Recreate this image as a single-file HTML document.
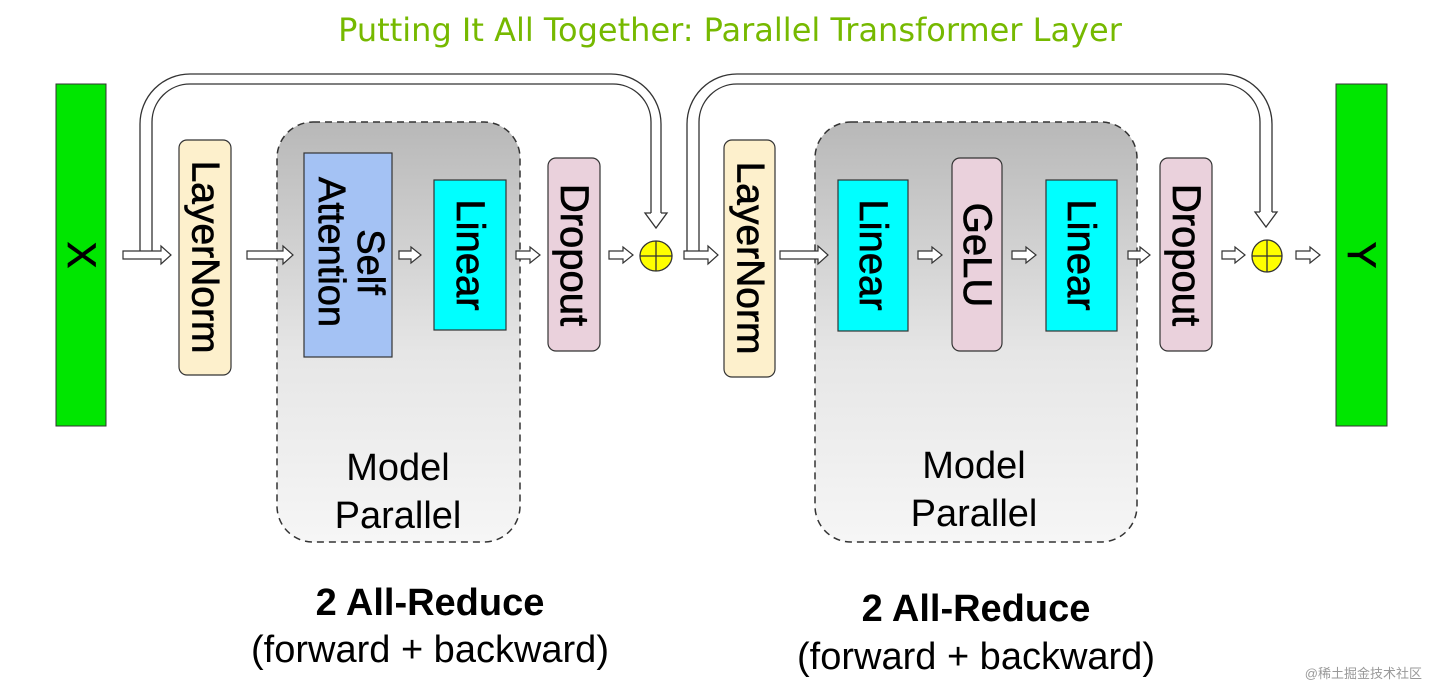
<!DOCTYPE html>
<html><head><meta charset="utf-8"><style>
html,body{margin:0;padding:0;background:#fff;width:1440px;height:700px;overflow:hidden}
svg{display:block}
text{font-family:"Liberation Sans",Arial,sans-serif}
.v{stroke:#000;stroke-width:0.7}
</style></head><body>
<svg width="1440" height="700" viewBox="0 0 1440 700" xmlns="http://www.w3.org/2000/svg">
<defs>
<linearGradient id="g" x1="0" y1="0" x2="0" y2="1">
<stop offset="0" stop-color="#b8b8b8"/><stop offset="0.55" stop-color="#e6e6e6"/><stop offset="1" stop-color="#f6f6f6"/>
</linearGradient>
</defs>
<text x="730" y="41" text-anchor="middle" font-size="32" fill="#76b900" style="font-family:'DejaVu Sans',sans-serif">Putting It All Together: Parallel Transformer Layer</text>

<rect x="56" y="84" width="50" height="342" fill="#00e600" stroke="#333" stroke-width="1"/>
<text class="v" transform="translate(81,255) rotate(90)" text-anchor="middle" dominant-baseline="central" font-size="40">X</text>
<rect x="1336" y="84" width="51" height="342" fill="#00e600" stroke="#333" stroke-width="1"/>
<text class="v" transform="translate(1361,255) rotate(90)" text-anchor="middle" dominant-baseline="central" font-size="40">Y</text>

<rect x="277" y="122" width="243" height="420" rx="36" fill="url(#g)" stroke="#333" stroke-width="1.5" stroke-dasharray="7,5"/>
<rect x="815" y="122" width="322" height="420" rx="36" fill="url(#g)" stroke="#333" stroke-width="1.5" stroke-dasharray="7,5"/>
<text x="398" y="480" text-anchor="middle" font-size="38">Model</text>
<text x="398" y="528" text-anchor="middle" font-size="38">Parallel</text>
<text x="974" y="478" text-anchor="middle" font-size="38">Model</text>
<text x="974" y="526" text-anchor="middle" font-size="38">Parallel</text>

<rect x="179" y="140" width="52" height="235" rx="8" fill="#fdf0cc" stroke="#333" stroke-width="1.2"/>
<text class="v" transform="translate(205,257) rotate(90)" text-anchor="middle" dominant-baseline="central" font-size="39">LayerNorm</text>
<rect x="304" y="153" width="88" height="204" fill="#a4c2f4" stroke="#333" stroke-width="1.2"/>
<text class="v" transform="translate(370,262) rotate(90)" text-anchor="middle" dominant-baseline="central" font-size="38">Self</text>
<text class="v" transform="translate(331,252) rotate(90)" text-anchor="middle" dominant-baseline="central" font-size="38">Attention</text>
<rect x="434" y="180" width="72" height="150" fill="#00ffff" stroke="#333" stroke-width="1.2"/>
<text class="v" transform="translate(470,255) rotate(90)" text-anchor="middle" dominant-baseline="central" font-size="40">Linear</text>
<rect x="548" y="158" width="52" height="193" rx="8" fill="#ead1dc" stroke="#333" stroke-width="1.2"/>
<text class="v" transform="translate(574,255) rotate(90)" text-anchor="middle" dominant-baseline="central" font-size="40">Dropout</text>

<rect x="724" y="140" width="51" height="237" rx="8" fill="#fdf0cc" stroke="#333" stroke-width="1.2"/>
<text class="v" transform="translate(750,258) rotate(90)" text-anchor="middle" dominant-baseline="central" font-size="39">LayerNorm</text>
<rect x="838" y="180" width="70" height="151" fill="#00ffff" stroke="#333" stroke-width="1.2"/>
<text class="v" transform="translate(873,255) rotate(90)" text-anchor="middle" dominant-baseline="central" font-size="40">Linear</text>
<rect x="952" y="158" width="50" height="193" rx="8" fill="#ead1dc" stroke="#333" stroke-width="1.2"/>
<text class="v" transform="translate(977,255) rotate(90)" text-anchor="middle" dominant-baseline="central" font-size="40">GeLU</text>
<rect x="1046" y="180" width="71" height="151" fill="#00ffff" stroke="#333" stroke-width="1.2"/>
<text class="v" transform="translate(1081,255) rotate(90)" text-anchor="middle" dominant-baseline="central" font-size="40">Linear</text>
<rect x="1160" y="158" width="52" height="193" rx="8" fill="#ead1dc" stroke="#333" stroke-width="1.2"/>
<text class="v" transform="translate(1186,255) rotate(90)" text-anchor="middle" dominant-baseline="central" font-size="40">Dropout</text>

<g fill="#fff" stroke="#333" stroke-width="1.2">
<polygon points="123,251 161,251 161,246 171,255 161,264 161,259 123,259"/>
<polygon points="247,251 283,251 283,246 293,255 283,264 283,259 247,259"/>
<polygon points="399,251 411,251 411,247 421,255 411,263 411,259 399,259"/>
<polygon points="516,251 530,251 530,247 540,255 530,263 530,259 516,259"/>
<polygon points="609,251 623,251 623,247 633,255 623,263 623,259 609,259"/>
<polygon points="684,251 708,251 708,246 718,255 708,264 708,259 684,259"/>
<polygon points="780,251 818,251 818,246 828,255 818,264 818,259 780,259"/>
<polygon points="918,251 932,251 932,247 942,255 932,263 932,259 918,259"/>
<polygon points="1012,251 1026,251 1026,247 1036,255 1026,263 1026,259 1012,259"/>
<polygon points="1128,251 1140,251 1140,247 1150,255 1140,263 1140,259 1128,259"/>
<polygon points="1222,251 1235,251 1235,247 1245,255 1235,263 1235,259 1222,259"/>
<polygon points="1296,251 1310,251 1310,247 1320,255 1310,263 1310,259 1296,259"/>
</g>

<g fill="none" stroke="#333" stroke-width="1.3">
<path d="M140,251 V124 A50,50 0 0 1 190,74 H611 A50,50 0 0 1 661,124 V213"/>
<path d="M152,251 V122 A38,38 0 0 1 190,84 H613 A38,38 0 0 1 651,122 V213"/>
<path d="M687,251 V124 A50,50 0 0 1 737,74 H1222 A50,50 0 0 1 1272,124 V212"/>
<path d="M699,251 V122 A38,38 0 0 1 737,84 H1222 A38,38 0 0 1 1260,122 V212"/>
</g>
<g fill="#fff" stroke="#333" stroke-width="1.3">
<path d="M651,213 H645 L656,228 L667,213 H661"/>
<path d="M1260,212 H1255 L1266,227 L1277,212 H1272"/>
</g>

<g fill="#ffff00" stroke="#333" stroke-width="1.3">
<ellipse cx="656" cy="256" rx="16" ry="15"/>
<ellipse cx="1267" cy="256" rx="15" ry="16"/>
</g>
<g stroke="#333" stroke-width="1.3">
<line x1="640" y1="256" x2="672" y2="256"/><line x1="656" y1="241" x2="656" y2="271"/>
<line x1="1252" y1="256" x2="1282" y2="256"/><line x1="1267" y1="240" x2="1267" y2="272"/>
</g>

<text x="430" y="615" text-anchor="middle" font-size="38" font-weight="bold">2 All-Reduce</text>
<text x="430" y="662" text-anchor="middle" font-size="38">(forward + backward)</text>
<text x="976" y="621" text-anchor="middle" font-size="38" font-weight="bold">2 All-Reduce</text>
<text x="976" y="669" text-anchor="middle" font-size="38">(forward + backward)</text>

<text x="1422" y="678" text-anchor="end" font-size="13" fill="#999" style="font-family:'Liberation Sans','Noto Sans CJK SC',sans-serif">@稀土掘金技术社区</text>
</svg>
</body></html>
